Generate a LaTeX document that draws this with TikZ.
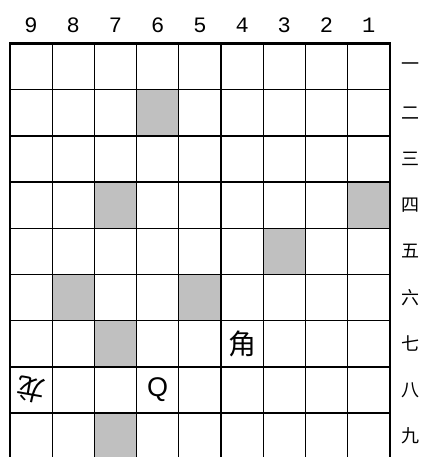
\documentclass[tikz,border=0pt]{standalone}
\usepackage{fontspec}
\usepackage{xcolor}
\usepackage{tikz}
\newfontfamily\cjk{Noto Sans CJK SC}
\newfontfamily\digitfont{Liberation Mono}
\newfontfamily\latinpiece{Liberation Sans}
\definecolor{boardgray}{RGB}{192, 192, 192}
\tikzset{
  gridline/.style={
    draw=black,
    line width=1.3pt
  },
  frameline/.style={
    draw=black,
    line width=2.6pt
  },
  filelabel/.style={
    inner sep=0pt,
    font=\digitfont\fontsize{22}{22}\selectfont
  },
  ranklabel/.style={
    inner sep=0pt,
    font=\cjk\fontsize{18}{18}\selectfont
  },
  piece/.style={
    inner sep=0pt,
    font=\cjk\fontsize{28}{28}\selectfont
  }
}

\begin{document}
\begin{tikzpicture}[x=1pt, y=-1pt]
  \useasboundingbox (0,0) rectangle (424,457);
  \begin{scope}[xshift=10pt, yshift=-43.5pt, x=42.2pt, y=-46.2pt]
    % shaded squares (file/rank)
    \foreach \f/\r in {6/2, 7/4, 1/4, 3/5, 8/6, 5/6, 7/7, 7/9}
      \fill[boardgray] ({9-\f},{\r-1}) rectangle ({10-\f},\r);
    % grid
    \foreach \c in {1,...,8}
      \draw[gridline] (\c,0) -- (\c,9.2);
    \foreach \r in {1,...,8}
      \draw[gridline] (0,\r) -- (9,\r);
    \draw[frameline] (0,9.2) -- (0,0) -- (9,0) -- (9,9.2);
    % file numbers and rank numbers
    \foreach \f [count=\i from 0] in {9,...,1}
      \node[filelabel] (file\f) at (\i+0.5,-0.4) {\f};
    \foreach \k [count=\r] in {一,二,三,四,五,六,七,八,九}
      \node[ranklabel] (rank\r) at (9.5,\r-0.5) {\k};
    % pieces
    \node[piece] (kaku) at (5.5,6.5) {角};
    \node[piece, font=\latinpiece\fontsize{27}{27}\selectfont] (queen) at (3.5,7.5) {Q};
    \node[piece, rotate=170] (ryu) at (0.5,7.5) {龙};
  \end{scope}
\end{tikzpicture}
\end{document}
